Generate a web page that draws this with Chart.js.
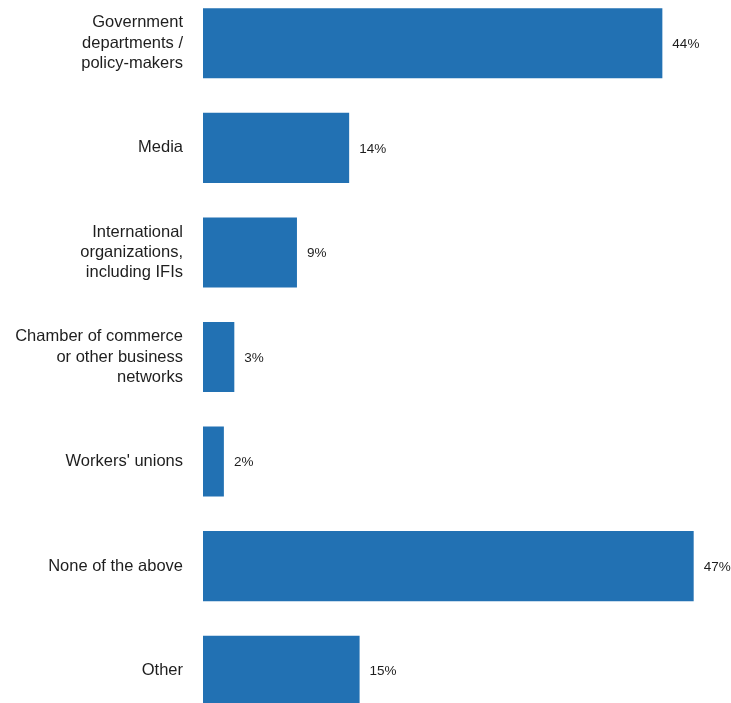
<!DOCTYPE html>
<html>
<head>
<meta charset="utf-8">
<script src="https://cdn.jsdelivr.net/npm/chart.js@4"></script>
<style>
  html, body { margin: 0; padding: 0; background: #fff; overflow: hidden; }
  #wrap { position: absolute; left: 0; top: -9px; width: 731px; height: 732px; }
</style>
</head>
<body>
<div id="wrap"><canvas id="myChart"></canvas></div>
<script>
const categories = [
    ['Government', 'departments /', 'policy-makers'],
    'Media',
    ['International', 'organizations,', 'including IFIs'],
    ['Chamber of commerce', 'or other business', 'networks'],
    "Workers' unions",
    'None of the above',
    'Other',
];
const shares = [44, 14, 9, 3, 2, 47, 15];
const barColor = '#2271b3';

// percentage text just right of each bar
const valueLabels = {
    id: 'valueLabels',
    afterDatasetsDraw(chart) {
        const ctx = chart.ctx;
        const meta = chart.getDatasetMeta(0);
        ctx.save();
        ctx.font = '13.5px "Liberation Sans", Arial, sans-serif';
        ctx.fillStyle = '#1e1e1e';
        ctx.textAlign = 'left';
        ctx.textBaseline = 'middle';
        meta.data.forEach((bar, i) => {
            ctx.fillText(`${shares[i]}%`, bar.x + 10, bar.y + 1);
        });
        ctx.restore();
    }
};

const ctx = document.getElementById('myChart').getContext('2d');
const chart = new Chart(ctx, {
    type: 'bar',
    data: {
        labels: categories,
        datasets: [{
            data: shares,
            backgroundColor: barColor,
            borderWidth: 0,
            categoryPercentage: 1,
            barPercentage: 0.67,
        }],
    },
    options: {
        indexAxis: 'y',
        responsive: true,
        maintainAspectRatio: false,
        animation: false,
        layout: { padding: { top: 0, bottom: 0, left: 0, right: 6 } },
        plugins: {
            legend: { display: false },
            tooltip: { enabled: false },
        },
        scales: {
            x: {
                display: false,
                min: 0,
                max: 50,
            },
            y: {
                grid: { display: false, drawTicks: false },
                border: { display: false },
                afterFit(scale) {
                    scale.width = 203;
                    scale.paddingTop = 0;
                    scale.paddingBottom = 0;
                },
                ticks: {
                    padding: 20,
                    color: '#1e1e1e',
                    font: { family: '"Liberation Sans", Arial, sans-serif', size: 16.5, lineHeight: 1.24 },
                },
            },
        },
    },
    plugins: [valueLabels],
});
</script>
</body>
</html>
